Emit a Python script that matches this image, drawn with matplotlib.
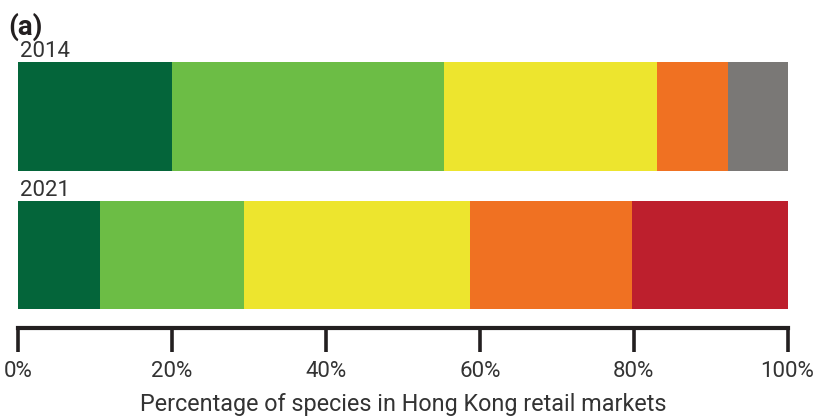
import matplotlib
matplotlib.use("Agg")
import matplotlib.pyplot as plt
import numpy as np

years = ["2014", "2021"]
# share of species per category, left to right (percent)
shares_2014 = [20.0, 35.3, 27.7, 9.3, 7.7]
shares_2021 = [10.6, 18.7, 29.4, 21.1, 20.2]
colors_2014 = ["#04653a", "#6cbd45", "#ede52e", "#f07122", "#7a7876"]
colors_2021 = ["#04653a", "#6cbd45", "#ede52e", "#f07122", "#bd1f2d"]
tick_values = [0, 20, 40, 60, 80, 100]
tick_labels = ["0%", "20%", "40%", "60%", "80%", "100%"]
x_label = "Percentage of species in Hong Kong retail markets"
panel_label = "(a)"

plt.rcParams['font.family'] = ['Roboto', 'DejaVu Sans']
text_color = "#333333"


def draw_bar(ax, ypos, shares, colors, label, height):
	lefts = np.concatenate([[0], np.cumsum(shares)[:-1]])
	ax.barh([ypos] * len(shares), shares, left=lefts, height=height,
			color=colors, edgecolor='none')
	ax.annotate(label, xy=(0, ypos + height / 2), xytext=(1, 3.5),
				textcoords='offset points', va='baseline', ha='left',
				fontsize=16, color=text_color, annotation_clip=False)


def main():
	fig = plt.figure(figsize=(8.23, 4.18), dpi=100)
	ax = fig.add_axes([18.3 / 823, 90 / 418, 769.2 / 823, 266 / 418])

	bar_height = 0.783
	draw_bar(ax, 1, shares_2014, colors_2014, years[0], bar_height)
	draw_bar(ax, 0, shares_2021, colors_2021, years[1], bar_height)

	ax.set_xlim(0, 100)
	ax.set_ylim(-0.527, 1.392)
	for side in ['left', 'top', 'right']:
		ax.spines[side].set_visible(False)
	ax.spines['bottom'].set_linewidth(3)
	ax.spines['bottom'].set_color('#231f20')
	ax.spines['bottom'].set_capstyle('projecting')
	ax.set_yticks([])
	ax.set_xticks(tick_values)
	ax.set_xticklabels(tick_labels)
	ax.tick_params(axis='x', direction='out', length=17, width=2.6,
				   color='#231f20', pad=7, labelsize=16, labelcolor=text_color)
	ax.set_xlabel(x_label, fontsize=16.8, color=text_color, labelpad=8)

	fig.text(8 / 823, 1 - 35 / 418, panel_label, fontsize=20,
			 fontweight='bold', va='baseline', ha='left', color='#231f20')

	fig.savefig("out.png", dpi=100)


if __name__ == "__main__":
	main()
